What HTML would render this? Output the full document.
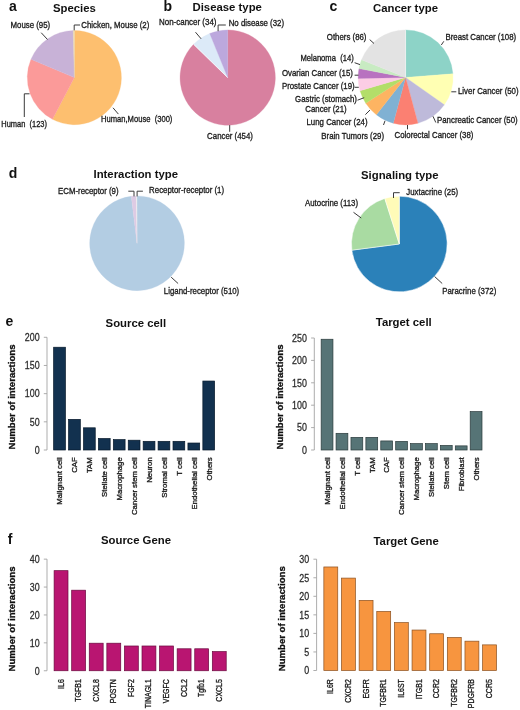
<!DOCTYPE html>
<html><head><meta charset="utf-8"><style>
html,body{margin:0;padding:0;background:#fff;}
svg{display:block;filter:blur(0.35px);}
text{font-family:"Liberation Sans", sans-serif;}
.l{stroke:#1a1a1a;stroke-width:0.32px;}
.tk{stroke:#2a2a2a;stroke-width:0.25px;}
.yl{stroke:#111;stroke-width:0.3px;}
</style></head><body>
<svg width="520" height="710" viewBox="0 0 520 710">
<rect width="520" height="710" fill="#fff"/>
<text x="9.00" y="11.00" font-size="14" font-weight="bold" text-anchor="start" fill="#111" >a</text>
<text x="163.50" y="11.20" font-size="14" font-weight="bold" text-anchor="start" fill="#111" >b</text>
<text x="329.50" y="11.20" font-size="14" font-weight="bold" text-anchor="start" fill="#111" >c</text>
<text x="8.70" y="178.00" font-size="14" font-weight="bold" text-anchor="start" fill="#111" >d</text>
<text x="5.60" y="325.80" font-size="14" font-weight="bold" text-anchor="start" fill="#111" >e</text>
<text x="7.70" y="544.00" font-size="14" font-weight="bold" text-anchor="start" fill="#111" >f</text>
<text x="53.00" y="11.70" font-size="11.35" font-weight="bold" text-anchor="start" fill="#111" >Species</text>
<text x="192.50" y="11.30" font-size="11.35" font-weight="bold" text-anchor="start" fill="#111" >Disease type</text>
<text x="373.00" y="11.50" font-size="11.35" font-weight="bold" text-anchor="start" fill="#111" >Cancer type</text>
<text x="93.50" y="178.00" font-size="11.35" font-weight="bold" text-anchor="start" fill="#111" >Interaction type</text>
<text x="361.00" y="179.00" font-size="11.35" font-weight="bold" text-anchor="start" fill="#111" >Signaling type</text>
<text x="105.60" y="326.60" font-size="11.35" font-weight="bold" text-anchor="start" fill="#111" >Source cell</text>
<text x="375.80" y="326.20" font-size="11.35" font-weight="bold" text-anchor="start" fill="#111" >Target cell</text>
<text x="101.00" y="544.00" font-size="11.35" font-weight="bold" text-anchor="start" fill="#111" >Source Gene</text>
<text x="373.50" y="544.60" font-size="11.35" font-weight="bold" text-anchor="start" fill="#111" >Target Gene</text>
<path d="M74.35,77.60 L74.35,30.55 A47.05,47.05 0 1 1 52.48,119.26 Z" fill="#FDBF6F" stroke="#FDBF6F" stroke-width="0.3"/>
<path d="M74.35,77.60 L52.48,119.26 A47.05,47.05 0 0 1 30.99,59.33 Z" fill="#FB9A99" stroke="#FB9A99" stroke-width="0.3"/>
<path d="M74.35,77.60 L30.99,59.33 A47.05,47.05 0 0 1 73.21,30.56 Z" fill="#C8B2D7" stroke="#C8B2D7" stroke-width="0.3"/>
<path d="M74.35,77.60 L73.21,30.56 A47.05,47.05 0 0 1 74.35,30.55 Z" fill="#EAD9B0" stroke="#EAD9B0" stroke-width="0.3"/>
<text class="l" transform="translate(81.30,28.11) scale(0.8722,1)" font-size="9.0" text-anchor="start" fill="#1a1a1a">Chicken, Mouse (2)</text>
<polyline points="80.00,25.00 74.20,25.00 74.20,30.30" fill="none" stroke="#3a3a3a" stroke-width="1.0"/>
<text class="l" transform="translate(10.50,28.11) scale(0.8722,1)" font-size="9.0" text-anchor="start" fill="#1a1a1a">Mouse (95)</text>
<polyline points="41.20,32.70 47.50,39.50" fill="none" stroke="#3a3a3a" stroke-width="1.0"/>
<text class="l" style="white-space:pre" transform="translate(1.30,127.41) scale(0.8300,1)" font-size="9.0" text-anchor="start" fill="#1a1a1a">Human  (123)</text>
<polyline points="24.30,117.00 24.30,93.80 29.50,93.80" fill="none" stroke="#3a3a3a" stroke-width="1.0"/>
<text class="l" style="white-space:pre" transform="translate(101.00,122.31) scale(0.8450,1)" font-size="9.0" text-anchor="start" fill="#1a1a1a">Human,Mouse  (300)</text>
<polyline points="113.00,107.80 118.40,114.10" fill="none" stroke="#3a3a3a" stroke-width="1.0"/>
<path d="M227.70,77.60 L227.70,29.95 A47.65,47.65 0 1 1 193.60,44.32 Z" fill="#D8809F" stroke="#D8809F" stroke-width="0.3"/>
<path d="M227.70,77.60 L193.60,44.32 A47.65,47.65 0 0 1 209.73,33.47 Z" fill="#DCEAF8" stroke="#DCEAF8" stroke-width="0.3"/>
<path d="M227.70,77.60 L209.73,33.47 A47.65,47.65 0 0 1 227.70,29.95 Z" fill="#BCA8DD" stroke="#BCA8DD" stroke-width="0.3"/>
<line x1="227.7" y1="77.6" x2="193.64" y2="44.35" stroke="#fff" stroke-width="0.7"/>
<text class="l" transform="translate(159.00,25.21) scale(0.8850,1)" font-size="9.0" text-anchor="start" fill="#1a1a1a">Non-cancer (34)</text>
<polyline points="195.50,32.20 201.10,38.80" fill="none" stroke="#3a3a3a" stroke-width="1.0"/>
<text class="l" transform="translate(228.70,25.51) scale(0.8722,1)" font-size="9.0" text-anchor="start" fill="#1a1a1a">No disease (32)</text>
<polyline points="225.80,25.00 218.10,25.00 218.10,31.20" fill="none" stroke="#3a3a3a" stroke-width="1.0"/>
<text class="l" transform="translate(207.10,139.31) scale(0.8722,1)" font-size="9.0" text-anchor="start" fill="#1a1a1a">Cancer (454)</text>
<polyline points="229.70,125.10 229.70,131.80" fill="none" stroke="#3a3a3a" stroke-width="1.0"/>
<path d="M405.60,77.40 L405.60,29.95 A47.449999999999996,47.449999999999996 0 0 1 452.91,73.79 Z" fill="#8DD3C7" stroke="#8DD3C7" stroke-width="0.3"/>
<path d="M405.60,77.40 L452.91,73.79 A47.449999999999996,47.449999999999996 0 0 1 444.33,104.81 Z" fill="#FFFFB3" stroke="#FFFFB3" stroke-width="0.3"/>
<path d="M405.60,77.40 L444.33,104.81 A47.449999999999996,47.449999999999996 0 0 1 417.93,123.22 Z" fill="#BEBADA" stroke="#BEBADA" stroke-width="0.3"/>
<path d="M405.60,77.40 L417.93,123.22 A47.449999999999996,47.449999999999996 0 0 1 393.27,123.22 Z" fill="#FB8072" stroke="#FB8072" stroke-width="0.3"/>
<path d="M405.60,77.40 L393.27,123.22 A47.449999999999996,47.449999999999996 0 0 1 376.35,114.76 Z" fill="#80B1D3" stroke="#80B1D3" stroke-width="0.3"/>
<path d="M405.60,77.40 L376.35,114.76 A47.449999999999996,47.449999999999996 0 0 1 365.76,103.18 Z" fill="#FDB462" stroke="#FDB462" stroke-width="0.3"/>
<path d="M405.60,77.40 L365.76,103.18 A47.449999999999996,47.449999999999996 0 0 1 360.05,90.68 Z" fill="#B3DE69" stroke="#B3DE69" stroke-width="0.3"/>
<path d="M405.60,77.40 L360.05,90.68 A47.449999999999996,47.449999999999996 0 0 1 358.16,78.38 Z" fill="#FCCDE5" stroke="#FCCDE5" stroke-width="0.3"/>
<path d="M405.60,77.40 L358.16,78.38 A47.449999999999996,47.449999999999996 0 0 1 358.98,68.59 Z" fill="#B872C0" stroke="#B872C0" stroke-width="0.3"/>
<path d="M405.60,77.40 L358.98,68.59 A47.449999999999996,47.449999999999996 0 0 1 361.55,59.77 Z" fill="#C8EBC2" stroke="#C8EBC2" stroke-width="0.3"/>
<path d="M405.60,77.40 L361.55,59.77 A47.449999999999996,47.449999999999996 0 0 1 405.60,29.95 Z" fill="#E3E3E3" stroke="#E3E3E3" stroke-width="0.3"/>
<line x1="405.6" y1="77.4" x2="405.6" y2="30.2" stroke="#fff" stroke-width="0.6" stroke-opacity="0.8"/>
<text class="l" transform="translate(445.50,39.81) scale(0.8722,1)" font-size="9.0" text-anchor="start" fill="#1a1a1a">Breast Cancer (108)</text>
<polyline points="441.30,45.00 443.80,41.30" fill="none" stroke="#3a3a3a" stroke-width="1.0"/>
<text class="l" transform="translate(458.00,94.11) scale(0.8722,1)" font-size="9.0" text-anchor="start" fill="#1a1a1a">Liver Cancer (50)</text>
<polyline points="451.30,91.80 456.30,91.80" fill="none" stroke="#3a3a3a" stroke-width="1.0"/>
<text class="l" transform="translate(437.00,123.31) scale(0.8722,1)" font-size="9.0" text-anchor="start" fill="#1a1a1a">Pancreatic Cancer (50)</text>
<polyline points="433.00,116.30 435.80,122.50" fill="none" stroke="#3a3a3a" stroke-width="1.0"/>
<text class="l" transform="translate(394.50,137.91) scale(0.8722,1)" font-size="9.0" text-anchor="start" fill="#1a1a1a">Colorectal Cancer (38)</text>
<polyline points="407.50,125.00 407.50,129.30" fill="none" stroke="#3a3a3a" stroke-width="1.0"/>
<text class="l" transform="translate(321.30,139.01) scale(0.8722,1)" font-size="9.0" text-anchor="start" fill="#1a1a1a">Brain Tumors (29)</text>
<polyline points="385.00,120.80 383.50,125.00" fill="none" stroke="#3a3a3a" stroke-width="1.0"/>
<text class="l" transform="translate(306.50,124.71) scale(0.8722,1)" font-size="9.0" text-anchor="start" fill="#1a1a1a">Lung Cancer (24)</text>
<polyline points="365.40,114.60 370.00,110.00" fill="none" stroke="#3a3a3a" stroke-width="1.0"/>
<text class="l" transform="translate(326.00,102.01) scale(0.8722,1)" font-size="9.0" text-anchor="middle" fill="#1a1a1a">Gastric (stomach)</text>
<text class="l" transform="translate(326.00,111.61) scale(0.8722,1)" font-size="9.0" text-anchor="middle" fill="#1a1a1a">Cancer (21)</text>
<polyline points="357.50,100.20 364.20,97.70" fill="none" stroke="#3a3a3a" stroke-width="1.0"/>
<text class="l" transform="translate(281.90,89.21) scale(0.8722,1)" font-size="9.0" text-anchor="start" fill="#1a1a1a">Prostate Cancer (19)</text>
<polyline points="354.60,87.30 358.80,87.30" fill="none" stroke="#3a3a3a" stroke-width="1.0"/>
<text class="l" transform="translate(281.90,75.51) scale(0.8722,1)" font-size="9.0" text-anchor="start" fill="#1a1a1a">Ovarian Cancer (15)</text>
<polyline points="354.60,75.20 358.50,75.20" fill="none" stroke="#3a3a3a" stroke-width="1.0"/>
<text class="l" style="white-space:pre" transform="translate(300.40,61.11) scale(0.8460,1)" font-size="9.0" text-anchor="start" fill="#1a1a1a">Melanoma  (14)</text>
<polyline points="354.60,62.70 360.00,64.60" fill="none" stroke="#3a3a3a" stroke-width="1.0"/>
<text class="l" transform="translate(326.80,39.51) scale(0.8722,1)" font-size="9.0" text-anchor="start" fill="#1a1a1a">Others (86)</text>
<polyline points="369.70,39.60 374.00,43.50" fill="none" stroke="#3a3a3a" stroke-width="1.0"/>
<path d="M137.00,243.30 L137.00,195.95 A47.35,47.35 0 1 1 131.29,196.30 Z" fill="#B3CDE3" stroke="#B3CDE3" stroke-width="0.3"/>
<path d="M137.00,243.30 L131.29,196.30 A47.35,47.35 0 0 1 136.43,195.95 Z" fill="#DECBE4" stroke="#DECBE4" stroke-width="0.3"/>
<path d="M137.00,243.30 L136.43,195.95 A47.35,47.35 0 0 1 137.00,195.95 Z" fill="#EEF0F0" stroke="#EEF0F0" stroke-width="0.3"/>
<text class="l" transform="translate(58.00,194.11) scale(0.8722,1)" font-size="9.0" text-anchor="start" fill="#1a1a1a">ECM-receptor (9)</text>
<polyline points="128.30,191.20 134.00,191.20 134.00,196.40" fill="none" stroke="#3a3a3a" stroke-width="1.0"/>
<text class="l" transform="translate(149.10,193.11) scale(0.8722,1)" font-size="9.0" text-anchor="start" fill="#1a1a1a">Receptor-receptor (1)</text>
<polyline points="142.90,191.20 137.10,191.20 137.10,196.40" fill="none" stroke="#3a3a3a" stroke-width="1.0"/>
<text class="l" transform="translate(163.80,294.31) scale(0.8722,1)" font-size="9.0" text-anchor="start" fill="#1a1a1a">Ligand-receptor (510)</text>
<polyline points="171.20,277.20 178.10,283.50" fill="none" stroke="#3a3a3a" stroke-width="1.0"/>
<path d="M399.30,244.00 L399.30,196.15 A47.85,47.85 0 1 1 351.85,250.17 Z" fill="#2B81B9" stroke="#fff" stroke-width="0.5"/>
<path d="M399.30,244.00 L351.85,250.17 A47.85,47.85 0 0 1 384.79,198.40 Z" fill="#A9DBA2" stroke="#fff" stroke-width="0.5"/>
<path d="M399.30,244.00 L384.79,198.40 A47.85,47.85 0 0 1 399.30,196.15 Z" fill="#FFFBB8" stroke="#fff" stroke-width="0.5"/>
<text class="l" transform="translate(406.30,194.51) scale(0.8722,1)" font-size="9.0" text-anchor="start" fill="#1a1a1a">Juxtacrine (25)</text>
<polyline points="399.70,192.70 393.50,192.70 393.50,198.00" fill="none" stroke="#3a3a3a" stroke-width="1.0"/>
<text class="l" transform="translate(305.00,205.81) scale(0.8722,1)" font-size="9.0" text-anchor="start" fill="#1a1a1a">Autocrine (113)</text>
<polyline points="353.50,212.30 361.20,218.00" fill="none" stroke="#3a3a3a" stroke-width="1.0"/>
<text class="l" transform="translate(442.20,294.31) scale(0.8722,1)" font-size="9.0" text-anchor="start" fill="#1a1a1a">Paracrine (372)</text>
<polyline points="434.60,276.50 442.20,283.50" fill="none" stroke="#3a3a3a" stroke-width="1.0"/>
<line x1="47" y1="450" x2="47" y2="337.30" stroke="#a4a4a4" stroke-width="0.9"/>
<line x1="43.8" y1="450.00" x2="47" y2="450.00" stroke="#a4a4a4" stroke-width="0.9"/>
<text class="tk" transform="translate(39.60,453.80) scale(0.87,1)" font-size="10.2" text-anchor="end" fill="#2a2a2a">0</text>
<line x1="43.8" y1="421.82" x2="47" y2="421.82" stroke="#a4a4a4" stroke-width="0.9"/>
<text class="tk" transform="translate(39.60,425.63) scale(0.87,1)" font-size="10.2" text-anchor="end" fill="#2a2a2a">50</text>
<line x1="43.8" y1="393.65" x2="47" y2="393.65" stroke="#a4a4a4" stroke-width="0.9"/>
<text class="tk" transform="translate(39.60,397.45) scale(0.87,1)" font-size="10.2" text-anchor="end" fill="#2a2a2a">100</text>
<line x1="43.8" y1="365.48" x2="47" y2="365.48" stroke="#a4a4a4" stroke-width="0.9"/>
<text class="tk" transform="translate(39.60,369.28) scale(0.87,1)" font-size="10.2" text-anchor="end" fill="#2a2a2a">150</text>
<line x1="43.8" y1="337.30" x2="47" y2="337.30" stroke="#a4a4a4" stroke-width="0.9"/>
<text class="tk" transform="translate(39.60,341.10) scale(0.87,1)" font-size="10.2" text-anchor="end" fill="#2a2a2a">200</text>
<rect x="53.65" y="347.23" width="11.75" height="102.77" fill="#12314F" stroke="#06182a" stroke-width="0.7"/>
<text class="l" transform="translate(62.30,457.3) rotate(-90) scale(1,1)" font-size="7.75" text-anchor="end" fill="#1a1a1a">Malignant cell</text>
<rect x="68.57" y="419.36" width="11.75" height="30.64" fill="#12314F" stroke="#06182a" stroke-width="0.7"/>
<text class="l" transform="translate(77.22,457.3) rotate(-90) scale(1,1)" font-size="7.75" text-anchor="end" fill="#1a1a1a">CAF</text>
<rect x="83.49" y="427.81" width="11.75" height="22.19" fill="#12314F" stroke="#06182a" stroke-width="0.7"/>
<text class="l" transform="translate(92.14,457.3) rotate(-90) scale(1,1)" font-size="7.75" text-anchor="end" fill="#1a1a1a">TAM</text>
<rect x="98.41" y="438.52" width="11.75" height="11.48" fill="#12314F" stroke="#06182a" stroke-width="0.7"/>
<text class="l" transform="translate(107.06,457.3) rotate(-90) scale(1,1)" font-size="7.75" text-anchor="end" fill="#1a1a1a">Stellate cell</text>
<rect x="113.33" y="439.64" width="11.75" height="10.36" fill="#12314F" stroke="#06182a" stroke-width="0.7"/>
<text class="l" transform="translate(121.98,457.3) rotate(-90) scale(1,1)" font-size="7.75" text-anchor="end" fill="#1a1a1a">Macrophage</text>
<rect x="128.25" y="440.21" width="11.75" height="9.79" fill="#12314F" stroke="#06182a" stroke-width="0.7"/>
<text class="l" transform="translate(136.90,457.3) rotate(-90) scale(1,1)" font-size="7.75" text-anchor="end" fill="#1a1a1a">Cancer stem cell</text>
<rect x="143.17" y="441.33" width="11.75" height="8.67" fill="#12314F" stroke="#06182a" stroke-width="0.7"/>
<text class="l" transform="translate(151.82,457.3) rotate(-90) scale(1,1)" font-size="7.75" text-anchor="end" fill="#1a1a1a">Neuron</text>
<rect x="158.09" y="441.33" width="11.75" height="8.67" fill="#12314F" stroke="#06182a" stroke-width="0.7"/>
<text class="l" transform="translate(166.74,457.3) rotate(-90) scale(1,1)" font-size="7.75" text-anchor="end" fill="#1a1a1a">Stromal cell</text>
<rect x="173.01" y="441.33" width="11.75" height="8.67" fill="#12314F" stroke="#06182a" stroke-width="0.7"/>
<text class="l" transform="translate(181.66,457.3) rotate(-90) scale(1,1)" font-size="7.75" text-anchor="end" fill="#1a1a1a">T cell</text>
<rect x="187.93" y="443.02" width="11.75" height="6.98" fill="#12314F" stroke="#06182a" stroke-width="0.7"/>
<text class="l" transform="translate(196.58,457.3) rotate(-90) scale(1,1)" font-size="7.75" text-anchor="end" fill="#1a1a1a">Endothelial cell</text>
<rect x="202.85" y="381.04" width="11.75" height="68.96" fill="#12314F" stroke="#06182a" stroke-width="0.7"/>
<text class="l" transform="translate(211.50,457.3) rotate(-90) scale(1,1)" font-size="7.75" text-anchor="end" fill="#1a1a1a">Others</text>
<text transform="translate(15.40,397.00) rotate(-90)" class="yl" font-size="9.6" font-weight="bold" text-anchor="middle" fill="#111">Number of interactions</text>
<line x1="314.3" y1="450" x2="314.3" y2="338.00" stroke="#a4a4a4" stroke-width="0.9"/>
<line x1="311.1" y1="450.00" x2="314.3" y2="450.00" stroke="#a4a4a4" stroke-width="0.9"/>
<text class="tk" transform="translate(306.90,453.80) scale(0.87,1)" font-size="10.2" text-anchor="end" fill="#2a2a2a">0</text>
<line x1="311.1" y1="427.60" x2="314.3" y2="427.60" stroke="#a4a4a4" stroke-width="0.9"/>
<text class="tk" transform="translate(306.90,431.40) scale(0.87,1)" font-size="10.2" text-anchor="end" fill="#2a2a2a">50</text>
<line x1="311.1" y1="405.20" x2="314.3" y2="405.20" stroke="#a4a4a4" stroke-width="0.9"/>
<text class="tk" transform="translate(306.90,409.00) scale(0.87,1)" font-size="10.2" text-anchor="end" fill="#2a2a2a">100</text>
<line x1="311.1" y1="382.80" x2="314.3" y2="382.80" stroke="#a4a4a4" stroke-width="0.9"/>
<text class="tk" transform="translate(306.90,386.60) scale(0.87,1)" font-size="10.2" text-anchor="end" fill="#2a2a2a">150</text>
<line x1="311.1" y1="360.40" x2="314.3" y2="360.40" stroke="#a4a4a4" stroke-width="0.9"/>
<text class="tk" transform="translate(306.90,364.20) scale(0.87,1)" font-size="10.2" text-anchor="end" fill="#2a2a2a">200</text>
<line x1="311.1" y1="338.00" x2="314.3" y2="338.00" stroke="#a4a4a4" stroke-width="0.9"/>
<text class="tk" transform="translate(306.90,341.80) scale(0.87,1)" font-size="10.2" text-anchor="end" fill="#2a2a2a">250</text>
<rect x="321.15" y="339.25" width="11.80" height="110.75" fill="#567476" stroke="#2a3a3b" stroke-width="0.7"/>
<text class="l" transform="translate(329.82,457.3) rotate(-90) scale(1,1)" font-size="7.75" text-anchor="end" fill="#1a1a1a">Malignant cell</text>
<rect x="336.06" y="433.33" width="11.80" height="16.67" fill="#567476" stroke="#2a3a3b" stroke-width="0.7"/>
<text class="l" transform="translate(344.73,457.3) rotate(-90) scale(1,1)" font-size="7.75" text-anchor="end" fill="#1a1a1a">Endothelial cell</text>
<rect x="350.96" y="437.36" width="11.80" height="12.64" fill="#567476" stroke="#2a3a3b" stroke-width="0.7"/>
<text class="l" transform="translate(359.63,457.3) rotate(-90) scale(1,1)" font-size="7.75" text-anchor="end" fill="#1a1a1a">T cell</text>
<rect x="365.87" y="437.36" width="11.80" height="12.64" fill="#567476" stroke="#2a3a3b" stroke-width="0.7"/>
<text class="l" transform="translate(374.54,457.3) rotate(-90) scale(1,1)" font-size="7.75" text-anchor="end" fill="#1a1a1a">TAM</text>
<rect x="380.77" y="440.94" width="11.80" height="9.06" fill="#567476" stroke="#2a3a3b" stroke-width="0.7"/>
<text class="l" transform="translate(389.44,457.3) rotate(-90) scale(1,1)" font-size="7.75" text-anchor="end" fill="#1a1a1a">CAF</text>
<rect x="395.68" y="441.39" width="11.80" height="8.61" fill="#567476" stroke="#2a3a3b" stroke-width="0.7"/>
<text class="l" transform="translate(404.35,457.3) rotate(-90) scale(1,1)" font-size="7.75" text-anchor="end" fill="#1a1a1a">Cancer stem cell</text>
<rect x="410.58" y="443.63" width="11.80" height="6.37" fill="#567476" stroke="#2a3a3b" stroke-width="0.7"/>
<text class="l" transform="translate(419.25,457.3) rotate(-90) scale(1,1)" font-size="7.75" text-anchor="end" fill="#1a1a1a">Macrophage</text>
<rect x="425.49" y="443.63" width="11.80" height="6.37" fill="#567476" stroke="#2a3a3b" stroke-width="0.7"/>
<text class="l" transform="translate(434.16,457.3) rotate(-90) scale(1,1)" font-size="7.75" text-anchor="end" fill="#1a1a1a">Stellate cell</text>
<rect x="440.39" y="445.42" width="11.80" height="4.58" fill="#567476" stroke="#2a3a3b" stroke-width="0.7"/>
<text class="l" transform="translate(449.06,457.3) rotate(-90) scale(1,1)" font-size="7.75" text-anchor="end" fill="#1a1a1a">Stem cell</text>
<rect x="455.30" y="445.87" width="11.80" height="4.13" fill="#567476" stroke="#2a3a3b" stroke-width="0.7"/>
<text class="l" transform="translate(463.97,457.3) rotate(-90) scale(1,1)" font-size="7.75" text-anchor="end" fill="#1a1a1a">Fibroblast</text>
<rect x="470.20" y="411.60" width="11.80" height="38.40" fill="#567476" stroke="#2a3a3b" stroke-width="0.7"/>
<text class="l" transform="translate(478.87,457.3) rotate(-90) scale(1,1)" font-size="7.75" text-anchor="end" fill="#1a1a1a">Others</text>
<text transform="translate(283.20,397.00) rotate(-90)" class="yl" font-size="9.6" font-weight="bold" text-anchor="middle" fill="#111">Number of interactions</text>
<line x1="47" y1="670.75" x2="47" y2="559.15" stroke="#a4a4a4" stroke-width="0.9"/>
<line x1="43.8" y1="670.75" x2="47" y2="670.75" stroke="#a4a4a4" stroke-width="0.9"/>
<text class="tk" transform="translate(39.60,674.55) scale(0.87,1)" font-size="10.2" text-anchor="end" fill="#2a2a2a">0</text>
<line x1="43.8" y1="642.85" x2="47" y2="642.85" stroke="#a4a4a4" stroke-width="0.9"/>
<text class="tk" transform="translate(39.60,646.65) scale(0.87,1)" font-size="10.2" text-anchor="end" fill="#2a2a2a">10</text>
<line x1="43.8" y1="614.95" x2="47" y2="614.95" stroke="#a4a4a4" stroke-width="0.9"/>
<text class="tk" transform="translate(39.60,618.75) scale(0.87,1)" font-size="10.2" text-anchor="end" fill="#2a2a2a">20</text>
<line x1="43.8" y1="587.05" x2="47" y2="587.05" stroke="#a4a4a4" stroke-width="0.9"/>
<text class="tk" transform="translate(39.60,590.85) scale(0.87,1)" font-size="10.2" text-anchor="end" fill="#2a2a2a">30</text>
<line x1="43.8" y1="559.15" x2="47" y2="559.15" stroke="#a4a4a4" stroke-width="0.9"/>
<text class="tk" transform="translate(39.60,562.95) scale(0.87,1)" font-size="10.2" text-anchor="end" fill="#2a2a2a">40</text>
<rect x="54.10" y="570.66" width="13.90" height="100.09" fill="#B91571" stroke="#6b0a3f" stroke-width="0.7"/>
<text class="l" transform="translate(63.56,679.2) rotate(-90) scale(0.83,1)" font-size="8.4" text-anchor="end" fill="#1a1a1a">IL6</text>
<rect x="71.68" y="590.19" width="13.90" height="80.56" fill="#B91571" stroke="#6b0a3f" stroke-width="0.7"/>
<text class="l" transform="translate(81.14,679.2) rotate(-90) scale(0.83,1)" font-size="8.4" text-anchor="end" fill="#1a1a1a">TGFB1</text>
<rect x="89.26" y="643.20" width="13.90" height="27.55" fill="#B91571" stroke="#6b0a3f" stroke-width="0.7"/>
<text class="l" transform="translate(98.72,679.2) rotate(-90) scale(0.83,1)" font-size="8.4" text-anchor="end" fill="#1a1a1a">CXCL8</text>
<rect x="106.84" y="643.20" width="13.90" height="27.55" fill="#B91571" stroke="#6b0a3f" stroke-width="0.7"/>
<text class="l" transform="translate(116.30,679.2) rotate(-90) scale(0.83,1)" font-size="8.4" text-anchor="end" fill="#1a1a1a">POSTN</text>
<rect x="124.42" y="645.99" width="13.90" height="24.76" fill="#B91571" stroke="#6b0a3f" stroke-width="0.7"/>
<text class="l" transform="translate(133.88,679.2) rotate(-90) scale(0.83,1)" font-size="8.4" text-anchor="end" fill="#1a1a1a">FGF2</text>
<rect x="142.00" y="645.99" width="13.90" height="24.76" fill="#B91571" stroke="#6b0a3f" stroke-width="0.7"/>
<text class="l" transform="translate(151.46,679.2) rotate(-90) scale(0.83,1)" font-size="8.4" text-anchor="end" fill="#1a1a1a">TINAGL1</text>
<rect x="159.58" y="645.99" width="13.90" height="24.76" fill="#B91571" stroke="#6b0a3f" stroke-width="0.7"/>
<text class="l" transform="translate(169.04,679.2) rotate(-90) scale(0.83,1)" font-size="8.4" text-anchor="end" fill="#1a1a1a">VEGFC</text>
<rect x="177.16" y="648.78" width="13.90" height="21.97" fill="#B91571" stroke="#6b0a3f" stroke-width="0.7"/>
<text class="l" transform="translate(186.62,679.2) rotate(-90) scale(0.83,1)" font-size="8.4" text-anchor="end" fill="#1a1a1a">CCL2</text>
<rect x="194.74" y="648.78" width="13.90" height="21.97" fill="#B91571" stroke="#6b0a3f" stroke-width="0.7"/>
<text class="l" transform="translate(204.20,679.2) rotate(-90) scale(0.83,1)" font-size="8.4" text-anchor="end" fill="#1a1a1a">Tgfb1</text>
<rect x="212.32" y="651.57" width="13.90" height="19.18" fill="#B91571" stroke="#6b0a3f" stroke-width="0.7"/>
<text class="l" transform="translate(221.78,679.2) rotate(-90) scale(0.83,1)" font-size="8.4" text-anchor="end" fill="#1a1a1a">CXCL5</text>
<text transform="translate(15.40,619.05) rotate(-90)" class="yl" font-size="9.6" font-weight="bold" text-anchor="middle" fill="#111">Number of interactions</text>
<line x1="316.6" y1="670.5" x2="316.6" y2="559.20" stroke="#a4a4a4" stroke-width="0.9"/>
<line x1="313.40000000000003" y1="670.50" x2="316.6" y2="670.50" stroke="#a4a4a4" stroke-width="0.9"/>
<text class="tk" transform="translate(309.20,674.30) scale(0.87,1)" font-size="10.2" text-anchor="end" fill="#2a2a2a">0</text>
<line x1="313.40000000000003" y1="651.95" x2="316.6" y2="651.95" stroke="#a4a4a4" stroke-width="0.9"/>
<text class="tk" transform="translate(309.20,655.75) scale(0.87,1)" font-size="10.2" text-anchor="end" fill="#2a2a2a">5</text>
<line x1="313.40000000000003" y1="633.40" x2="316.6" y2="633.40" stroke="#a4a4a4" stroke-width="0.9"/>
<text class="tk" transform="translate(309.20,637.20) scale(0.87,1)" font-size="10.2" text-anchor="end" fill="#2a2a2a">10</text>
<line x1="313.40000000000003" y1="614.85" x2="316.6" y2="614.85" stroke="#a4a4a4" stroke-width="0.9"/>
<text class="tk" transform="translate(309.20,618.65) scale(0.87,1)" font-size="10.2" text-anchor="end" fill="#2a2a2a">15</text>
<line x1="313.40000000000003" y1="596.30" x2="316.6" y2="596.30" stroke="#a4a4a4" stroke-width="0.9"/>
<text class="tk" transform="translate(309.20,600.10) scale(0.87,1)" font-size="10.2" text-anchor="end" fill="#2a2a2a">20</text>
<line x1="313.40000000000003" y1="577.75" x2="316.6" y2="577.75" stroke="#a4a4a4" stroke-width="0.9"/>
<text class="tk" transform="translate(309.20,581.55) scale(0.87,1)" font-size="10.2" text-anchor="end" fill="#2a2a2a">25</text>
<line x1="313.40000000000003" y1="559.20" x2="316.6" y2="559.20" stroke="#a4a4a4" stroke-width="0.9"/>
<text class="tk" transform="translate(309.20,563.00) scale(0.87,1)" font-size="10.2" text-anchor="end" fill="#2a2a2a">30</text>
<rect x="323.85" y="566.97" width="13.90" height="103.53" fill="#F7953F" stroke="#8a5020" stroke-width="0.7"/>
<text class="l" transform="translate(333.31,679.2) rotate(-90) scale(0.83,1)" font-size="8.4" text-anchor="end" fill="#1a1a1a">IL6R</text>
<rect x="341.49" y="578.10" width="13.90" height="92.40" fill="#F7953F" stroke="#8a5020" stroke-width="0.7"/>
<text class="l" transform="translate(350.95,679.2) rotate(-90) scale(0.83,1)" font-size="8.4" text-anchor="end" fill="#1a1a1a">CXCR2</text>
<rect x="359.13" y="600.36" width="13.90" height="70.14" fill="#F7953F" stroke="#8a5020" stroke-width="0.7"/>
<text class="l" transform="translate(368.59,679.2) rotate(-90) scale(0.83,1)" font-size="8.4" text-anchor="end" fill="#1a1a1a">EGFR</text>
<rect x="376.77" y="611.49" width="13.90" height="59.01" fill="#F7953F" stroke="#8a5020" stroke-width="0.7"/>
<text class="l" transform="translate(386.23,679.2) rotate(-90) scale(0.83,1)" font-size="8.4" text-anchor="end" fill="#1a1a1a">TGFBR1</text>
<rect x="394.41" y="622.62" width="13.90" height="47.88" fill="#F7953F" stroke="#8a5020" stroke-width="0.7"/>
<text class="l" transform="translate(403.87,679.2) rotate(-90) scale(0.83,1)" font-size="8.4" text-anchor="end" fill="#1a1a1a">IL6ST</text>
<rect x="412.05" y="630.04" width="13.90" height="40.46" fill="#F7953F" stroke="#8a5020" stroke-width="0.7"/>
<text class="l" transform="translate(421.51,679.2) rotate(-90) scale(0.83,1)" font-size="8.4" text-anchor="end" fill="#1a1a1a">ITGB1</text>
<rect x="429.69" y="633.75" width="13.90" height="36.75" fill="#F7953F" stroke="#8a5020" stroke-width="0.7"/>
<text class="l" transform="translate(439.15,679.2) rotate(-90) scale(0.83,1)" font-size="8.4" text-anchor="end" fill="#1a1a1a">CCR2</text>
<rect x="447.33" y="637.46" width="13.90" height="33.04" fill="#F7953F" stroke="#8a5020" stroke-width="0.7"/>
<text class="l" transform="translate(456.79,679.2) rotate(-90) scale(0.83,1)" font-size="8.4" text-anchor="end" fill="#1a1a1a">TGFBR2</text>
<rect x="464.97" y="641.17" width="13.90" height="29.33" fill="#F7953F" stroke="#8a5020" stroke-width="0.7"/>
<text class="l" transform="translate(474.43,679.2) rotate(-90) scale(0.83,1)" font-size="8.4" text-anchor="end" fill="#1a1a1a">PDGFRB</text>
<rect x="482.61" y="644.88" width="13.90" height="25.62" fill="#F7953F" stroke="#8a5020" stroke-width="0.7"/>
<text class="l" transform="translate(492.07,679.2) rotate(-90) scale(0.83,1)" font-size="8.4" text-anchor="end" fill="#1a1a1a">CCR5</text>
<text transform="translate(285.00,618.80) rotate(-90)" class="yl" font-size="9.6" font-weight="bold" text-anchor="middle" fill="#111">Number of interactions</text>
</svg>
</body></html>
